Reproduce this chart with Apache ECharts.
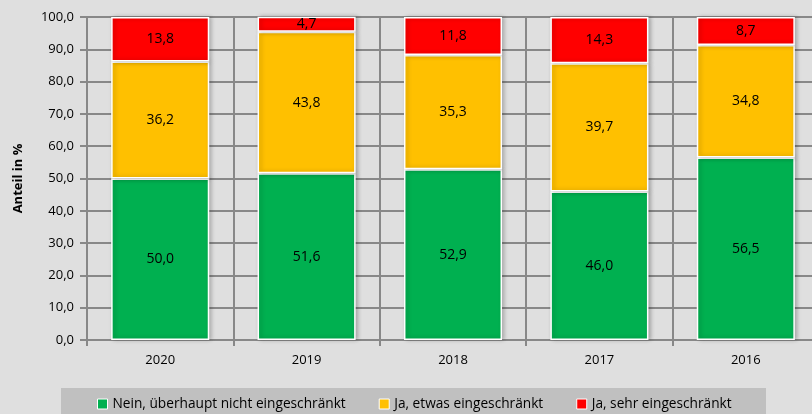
<!DOCTYPE html>
<html>
<head>
<meta charset="utf-8">
<script src="https://cdn.jsdelivr.net/npm/echarts@6/dist/echarts.min.js"></script>
<style>
  html, body { margin: 0; padding: 0; background: #dfdfdf; }
  #chart { width: 812px; height: 414px; }
</style>
</head>
<body>
<div id="chart"></div>
<script>
var years = ['2020', '2019', '2018', '2017', '2016']
var nein = [50.0, 51.6, 52.9, 46.0, 56.5]
var etwas = [36.2, 43.8, 35.3, 39.7, 34.8]
var sehr = [13.8, 4.7, 11.8, 14.3, 8.7]
var seriesNames = ['Nein, überhaupt nicht eingeschränkt', 'Ja, etwas eingeschränkt', 'Ja, sehr eingeschränkt']
var colors = ['#00b050', '#ffc000', '#ff0000']

var chart = echarts.init(document.getElementById('chart'))

function fmt (v) {
  return v.toFixed(1).replace('.', ',')
}

function makeSeries (name, data, color) {
  return {
    name: name,
    type: 'bar',
    stack: 'total',
    barWidth: '67%',
    data: data,
    itemStyle: {
      color: color,
      borderColor: '#ffffff',
      borderWidth: 1.5,
      shadowColor: 'rgba(0,0,0,0.25)',
      shadowBlur: 4,
      shadowOffsetX: 2
    },
    label: {
      show: true,
      position: 'inside',
      color: '#000',
      fontSize: 14,
      fontFamily: 'Open Sans',
      formatter: function (p) { return fmt(p.value) }
    }
  }
}

var option = {
  backgroundColor: '#dfdfdf',
  animation: false,
  color: colors,
  grid: {
    left: 87,
    top: 17,
    width: 732,
    height: 323,
    containLabel: false,
    outerBoundsMode: 'none'
  },
  graphic: [{
    type: 'rect',
    left: 61,
    top: 388,
    shape: { width: 705, height: 30 },
    style: { fill: '#c0c0c0' },
    z: 0
  }],
  legend: {
    bottom: -2,
    left: 92,
    itemWidth: 10,
    itemHeight: 10,
    itemGap: 33,
    icon: 'rect',
    textStyle: { fontSize: 13.7, fontFamily: 'Open Sans', color: '#000' },
    itemStyle: { borderColor: '#ffffff', borderWidth: 1 },
    data: seriesNames
  },
  xAxis: {
    type: 'category',
    data: years,
    axisLine: { lineStyle: { color: '#888', width: 2 } },
    axisTick: { show: true, length: 6, lineStyle: { color: '#888', width: 2 } },
    splitLine: { show: true, lineStyle: { color: '#888', width: 2 } },
    axisLabel: { fontSize: 13, fontFamily: 'Open Sans', color: '#000', margin: 14 }
  },
  yAxis: {
    type: 'value',
    min: 0,
    max: 100,
    interval: 10,
    name: 'Anteil in %',
    nameLocation: 'middle',
    nameRotate: 90,
    nameGap: 62,
    nameTextStyle: { fontSize: 13, fontWeight: 'bold', fontFamily: 'Open Sans', color: '#000' },
    axisLine: { show: true, lineStyle: { color: '#888', width: 2 } },
    axisTick: { show: true, length: 7, lineStyle: { color: '#888', width: 2 } },
    splitLine: { show: true, lineStyle: { color: '#888', width: 2 } },
    axisLabel: {
      fontSize: 13,
      fontFamily: 'Open Sans',
      color: '#000',
      margin: 13,
      formatter: function (v) { return fmt(v) }
    }
  },
  series: [
    makeSeries(seriesNames[0], nein, colors[0]),
    makeSeries(seriesNames[1], etwas, colors[1]),
    makeSeries(seriesNames[2], sehr, colors[2])
  ]
}

chart.setOption(option)
</script>
</body>
</html>
